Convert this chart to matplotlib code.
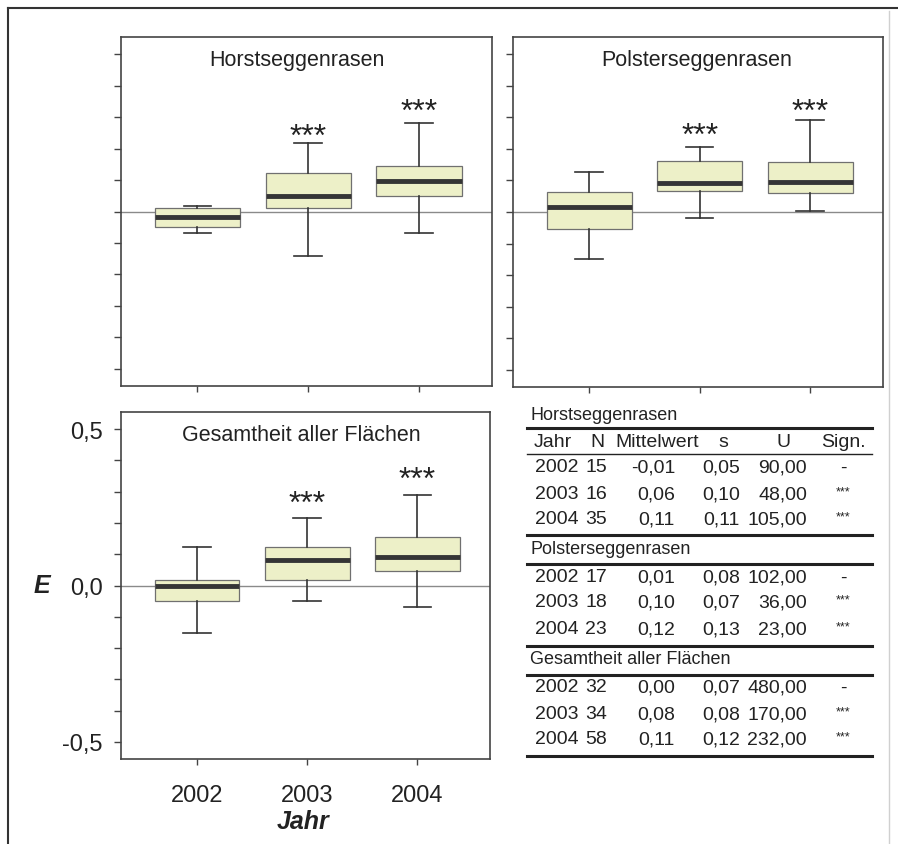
import numpy as np
import matplotlib
matplotlib.use("Agg")
import matplotlib.pyplot as plt
from matplotlib.lines import Line2D

# ---------------- data ----------------
years = ["2002", "2003", "2004"]
positions = [1, 2, 3]

horst_lo = [-0.067, -0.143, -0.067]
horst_q1 = [-0.048, 0.010, 0.048]
horst_med = [-0.016, 0.048, 0.096]
horst_q3 = [0.010, 0.121, 0.146]
horst_hi = [0.016, 0.217, 0.280]
horst_star_y = [0.0, 0.248, 0.328]

polster_lo = [-0.150, -0.019, 0.003]
polster_q1 = [-0.054, 0.067, 0.061]
polster_med = [0.016, 0.092, 0.096]
polster_q3 = [0.064, 0.162, 0.159]
polster_hi = [0.127, 0.207, 0.293]
polster_star_y = [0.0, 0.252, 0.330]

gesamt_lo = [-0.153, -0.051, -0.070]
gesamt_q1 = [-0.051, 0.019, 0.045]
gesamt_med = [0.000, 0.083, 0.092]
gesamt_q3 = [0.019, 0.124, 0.156]
gesamt_hi = [0.124, 0.217, 0.290]
gesamt_star_y = [0.0, 0.274, 0.350]

sig_marks = ["", "***", "***"]

ytick_values = [-0.5, -0.4, -0.3, -0.2, -0.1, 0.0, 0.1, 0.2, 0.3, 0.4, 0.5]
ytick_labels = ["-0,5", "", "", "", "", "0,0", "", "", "", "", "0,5"]

tab_sections = ["Horstseggenrasen", "Polsterseggenrasen", "Gesamtheit aller Flächen"]
tab_header = ["Jahr", "N", "Mittelwert", "s", "U", "Sign."]
tab_N = [[15, 16, 35], [17, 18, 23], [32, 34, 58]]
tab_mean = [[-0.01, 0.06, 0.11], [0.01, 0.10, 0.12], [0.00, 0.08, 0.11]]
tab_s = [[0.05, 0.10, 0.11], [0.08, 0.07, 0.13], [0.07, 0.08, 0.12]]
tab_U = [[90.00, 48.00, 105.00], [102.00, 36.00, 23.00], [480.00, 170.00, 232.00]]
tab_sign = [["-", "***", "***"], ["-", "***", "***"], ["-", "***", "***"]]

# ---------------- style ----------------
plt.rcParams["font.family"] = ["Liberation Sans", "DejaVu Sans"]
NARROW = ["Liberation Sans Narrow", "Liberation Sans", "DejaVu Sans"]
FILL = "#edf0c8"
EDGE = "#707070"
MED = "#353535"
WHISK = "#333333"
SPINE = "#444444"

W, H = 898, 845
fig = plt.figure(figsize=(W / 100, H / 100), dpi=100)


def px_axes(x0, y0, x1, y1):
    return fig.add_axes([x0 / W, 1 - y1 / H, (x1 - x0) / W, (y1 - y0) / H])


def fmt(v):
    return f"{v:.2f}".replace(".", ",")


def panel(rect, title, title_x, lo, q1, med, q3, hi, star_y, bottom_labels):
    ax = px_axes(*rect)
    stats = [dict(whislo=lo[i], q1=q1[i], med=med[i], q3=q3[i], whishi=hi[i],
                  fliers=[], label=years[i]) for i in range(3)]
    ax.bxp(stats, positions=positions, widths=0.77, capwidths=0.25,
           showfliers=False, patch_artist=True,
           boxprops=dict(facecolor=FILL, edgecolor=EDGE, linewidth=0.9),
           medianprops=dict(color=MED, linewidth=3.5, solid_capstyle="butt"),
           whiskerprops=dict(color=WHISK, linewidth=1.2),
           capprops=dict(color=WHISK, linewidth=1.2))
    ax.axhline(0, color="#8a8a8a", lw=1.0, zorder=1.5)
    for p, s, y in zip(positions, sig_marks, star_y):
        if s:
            ax.text(p, y - 0.012, s, ha="center", va="center", fontsize=23, color="#222222")
    ax.text(title_x, 0.935, title, transform=ax.transAxes, ha="center", va="center",
            fontsize=15.5, color="#222222")
    ax.set_xlim(0.31, 3.66)
    ax.set_ylim(-0.555, 0.555)
    ax.set_yticks(ytick_values)
    ax.set_xticks(positions)
    if bottom_labels:
        ax.set_yticklabels(ytick_labels)
        ax.set_xticklabels(years)
    else:
        ax.set_yticklabels([])
        ax.set_xticklabels([])
    ax.tick_params(axis="y", direction="out", length=5, width=1, color=SPINE,
                   labelsize=17, pad=8, labelcolor="#222222")
    ax.tick_params(axis="x", direction="out", length=4, width=1, color=SPINE,
                   labelsize=17, pad=14, labelcolor="#222222")
    for sp in ax.spines.values():
        sp.set_color(SPINE)
        sp.set_linewidth(1.2)
    return ax


panel((121, 38, 492, 387), "Horstseggenrasen", 0.475,
      horst_lo, horst_q1, horst_med, horst_q3, horst_hi, horst_star_y, False)
panel((513, 38, 883, 388), "Polsterseggenrasen", 0.497,
      polster_lo, polster_q1, polster_med, polster_q3, polster_hi, polster_star_y, False)
panel((121, 413, 490, 760), "Gesamtheit aller Flächen", 0.49,
      gesamt_lo, gesamt_q1, gesamt_med, gesamt_q3, gesamt_hi, gesamt_star_y, True)

fig.text(42 / W, 1 - 586 / H, "E", ha="center", va="center", fontsize=18,
         fontweight="bold", fontstyle="italic", color="#222222")
fig.text(303 / W, 1 - 822 / H, "Jahr", ha="center", va="center", fontsize=18,
         fontweight="bold", fontstyle="italic", color="#222222")

# ---------------- table ----------------
def hline(y, lw):
    fig.add_artist(Line2D([527 / W, 872 / W], [1 - y / H, 1 - y / H], color="#222222",
                          lw=lw, transform=fig.transFigure))


def ttext(x, y, s, ha, size=14):
    fig.text(x / W, 1 - y / H, s, ha=ha, va="center", fontsize=size,
             family=NARROW, color="#222222")


section_label_y = [415, 550, 660]
section_line_y = [429, 565, 676]
section_rows_y = [[468, 495, 520], [578, 603, 630], [688, 715, 740]]
section_end_y = [536, 647, 757]

header_x = [553, 597, 657, 723, 783, 843]
for hx, h in zip(header_x, tab_header):
    ttext(hx, 443, h, "center")
hline(455, 1.0)

for k in range(3):
    ttext(530, section_label_y[k], tab_sections[k], "left", size=13)
    hline(section_line_y[k], 2.2)
    for i in range(3):
        y = section_rows_y[k][i]
        ttext(535, y, years[i], "left")
        ttext(596, y, str(tab_N[k][i]), "center")
        ttext(675, y, fmt(tab_mean[k][i]), "right")
        ttext(740, y, fmt(tab_s[k][i]), "right")
        ttext(807, y, fmt(tab_U[k][i]), "right")
        sg = tab_sign[k][i]
        ttext(843, y - (3 if sg != "-" else 0), sg, "center", size=9 if sg != "-" else 14)
    hline(section_end_y[k], 2.2)

# outer frame
fig.add_artist(Line2D([8 / W, 1.0], [1 - 9 / H, 1 - 9 / H], color="#333333", lw=1.5,
                      transform=fig.transFigure))
fig.add_artist(Line2D([8 / W, 8 / W], [0.0, 1 - 9 / H], color="#333333", lw=1.5,
                      transform=fig.transFigure))
fig.add_artist(Line2D([889 / W, 889 / W], [0.0, 1 - 12 / H], color="#d0d0d0", lw=1.0,
                      transform=fig.transFigure))

fig.savefig("out.png", dpi=100)
